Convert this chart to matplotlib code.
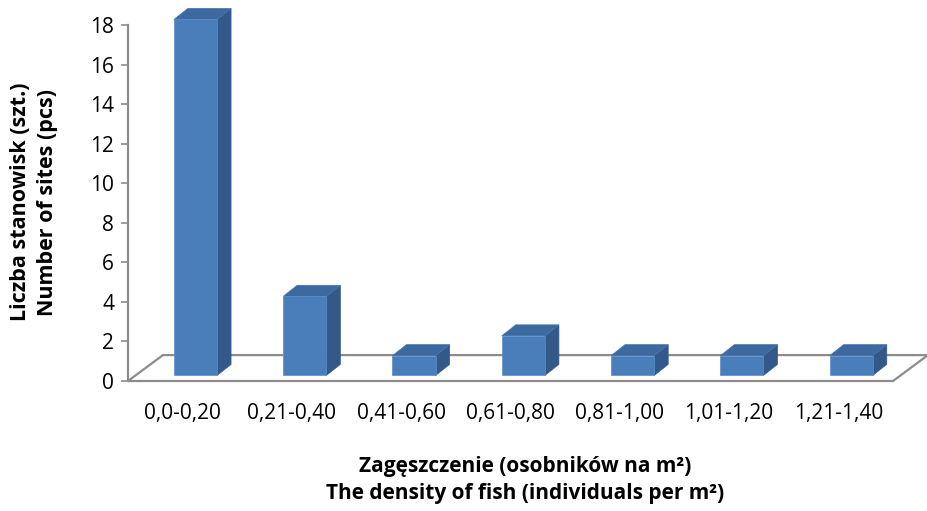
import matplotlib
matplotlib.use("Agg")
import matplotlib.pyplot as plt
from matplotlib.patches import Polygon

plt.rcParams['font.family'] = ['Open Sans', 'DejaVu Sans']

# data
categories = ['0,0-0,20', '0,21-0,40', '0,41-0,60', '0,61-0,80',
              '0,81-1,00', '1,01-1,20', '1,21-1,40']
sites = [18, 4, 1, 2, 1, 1, 1]
yticks = list(range(0, 19, 2))

# colours of the Excel-like 3D columns
front_col = '#4a7ebb'
side_col = '#33598a'
top_col = '#3c699f'
grey = '#8c8c8c'

W, H = 928, 511
fig = plt.figure(figsize=(W / 100, H / 100), dpi=100)
fig.patch.set_facecolor('white')

# axes placed so the data box matches the reference pixels
x0, x1, ytop, ybot = 128, 893, 25, 381
ax = fig.add_axes([x0 / W, (H - ybot) / H, (x1 - x0) / W, (ybot - ytop) / H])
ax.set_xlim(-0.5, len(categories) - 0.5)
ax.set_ylim(0, 18)

# floor of the 3D chart
fdx, fdy = 0.32, 1.31
n = len(categories)
floor = Polygon([(-0.5, 0), (n - 0.5, 0), (n - 0.5 + fdx, fdy), (-0.5 + fdx, fdy)],
                closed=True, facecolor='white', edgecolor=grey, lw=1.6,
                clip_on=False, zorder=1)
ax.add_patch(floor)

# columns: front face, side face, top face
bw = 0.395
boff = 0.42
base = 0.28
ddx, ddy = 0.128, 0.56
for i, v in enumerate(sites):
    xl = i - 0.5 + boff
    xr = xl + bw
    top = base + v
    front = Polygon([(xl, base), (xr, base), (xr, top), (xl, top)],
                    facecolor=front_col, edgecolor='#5b8cc6', lw=0.5,
                    clip_on=False, zorder=3)
    side = Polygon([(xr, base), (xr + ddx, base + ddy), (xr + ddx, top + ddy), (xr, top)],
                   facecolor=side_col, edgecolor=side_col, lw=0.5,
                   clip_on=False, zorder=3)
    lid = Polygon([(xl, top), (xr, top), (xr + ddx, top + ddy), (xl + ddx, top + ddy)],
                  facecolor=top_col, edgecolor='#4775ad', lw=0.5,
                  clip_on=False, zorder=3)
    ax.add_patch(side)
    ax.add_patch(lid)
    ax.add_patch(front)

for s in ['top', 'right', 'bottom']:
    ax.spines[s].set_visible(False)
ax.spines['left'].set_color(grey)
ax.spines['left'].set_linewidth(1.6)
ax.set_facecolor('none')

ax.set_yticks(yticks)
ax.set_yticklabels([str(t) for t in yticks], fontsize=15)
ax.tick_params(axis='y', direction='out', length=5, width=1.2, color=grey, pad=5)

ax.set_xticks(range(n))
ax.set_xticklabels(categories, fontsize=15)
ax.tick_params(axis='x', length=0, pad=16)

# axis titles placed in figure pixels
fig.text(34 / W, 1 - 202 / H, 'Liczba stanowisk (szt.)\nNumber of sites (pcs)',
         rotation=90, ha='center', va='center', fontsize=15.5,
         fontweight='bold', linespacing=1.4)
fig.text(525 / W, 1 - 480 / H,
         'Zagęszczenie (osobników na m²)\nThe density of fish (individuals per m²)',
         ha='center', va='center', fontsize=15, fontweight='bold', linespacing=1.4)

fig.savefig('out.png', dpi=100, facecolor='white')
